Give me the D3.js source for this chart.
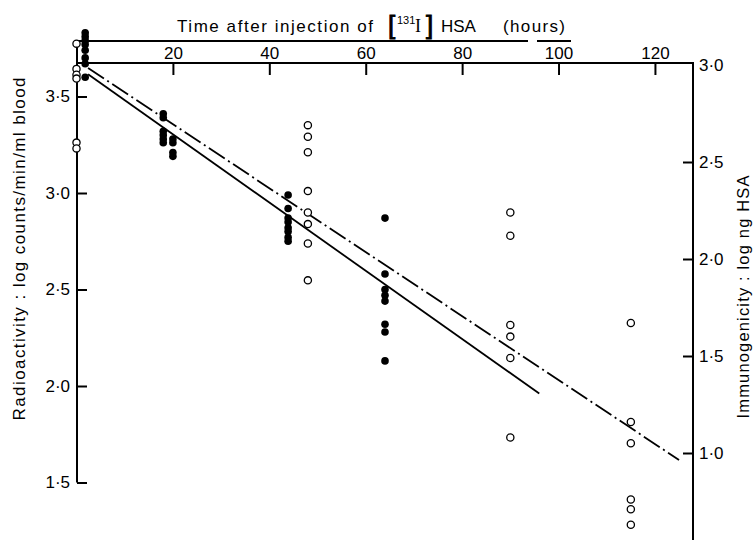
<!DOCTYPE html>
<html><head><meta charset="utf-8">
<script src="https://cdn.jsdelivr.net/npm/d3@7"></script>
<style>
html,body{margin:0;padding:0;background:#fff;}
svg{display:block;font-family:"Liberation Sans",Arial,sans-serif;}
</style></head>
<body>
<svg id="chart" width="755" height="540"></svg>
<script>
// ---- data ----
const timeTicks = [20, 40, 60, 80, 100, 120];
const radioTicks = [1.5, 2.0, 2.5, 3.0, 3.5];
const immunoTicks = [1.0, 1.5, 2.0, 2.5, 3.0];

// Radioactivity (filled dots, left axis): hours and log counts/min/ml blood
const radioGroups = [
  {hours: 1.8,  values: [3.83, 3.81, 3.79, 3.77, 3.74, 3.70, 3.67, 3.60]},
  {hours: 18,   values: [3.41, 3.39, 3.32, 3.30, 3.28, 3.26]},
  {hours: 20,   values: [3.28, 3.26, 3.21, 3.19]},
  {hours: 43.9, values: [2.99, 2.92, 2.87, 2.85, 2.82, 2.80, 2.77, 2.75]},
  {hours: 64,   values: [2.87, 2.58, 2.50, 2.47, 2.44, 2.32, 2.28, 2.13]}
];
// Immunogenicity (open circles, right axis): hours and log ng HSA
const immunoGroups = [
  {hours: 0,    values: [3.11, 2.98, 2.95, 2.93, 2.60, 2.57]},
  {hours: 48,   values: [2.69, 2.63, 2.55, 2.35, 2.24, 2.18, 2.08, 1.89]},
  {hours: 90,   values: [2.24, 2.12, 1.66, 1.60, 1.49, 1.08]},
  {hours: 115,  values: [1.67, 1.16, 1.05, 0.76, 0.71, 0.63]}
];
// Regression lines
const radioFitHours = [2.4, 96];
const radioFitLog = [3.615, 1.961];
const immunoFitHours = [2.4, 125];
const immunoFitLog = [2.985, 0.964];

// ---- layout ----
const svg = d3.select("#chart");
const xLeft = 77, xRight = 693, yTop = 63;
const x = d3.scaleLinear().domain([0, 128]).range([76.5, 693.5]);
const yL = d3.scaleLinear().domain([1.5, 3.0]).range([482.5, 193]);
const yR = d3.scaleLinear().domain([1.0, 3.0]).range([453, 65]);
const fmt = d => d3.format(".1f")(d).replace(".", "\u00B7");

const axisStroke = 2;

// frame lines
svg.append("line").attr("x1", xLeft).attr("x2", 528).attr("y1", 41).attr("y2", 41)
  .attr("stroke", "#000").attr("stroke-width", axisStroke);
svg.append("line").attr("x1", 537).attr("x2", 571).attr("y1", 41).attr("y2", 41)
  .attr("stroke", "#000").attr("stroke-width", axisStroke);
svg.append("line").attr("x1", xLeft).attr("x2", xRight).attr("y1", yTop).attr("y2", yTop)
  .attr("stroke", "#000").attr("stroke-width", axisStroke);
svg.append("line").attr("x1", xLeft).attr("x2", xLeft).attr("y1", 40).attr("y2", yL(1.5))
  .attr("stroke", "#000").attr("stroke-width", axisStroke);
svg.append("line").attr("x1", xRight).attr("x2", xRight).attr("y1", yTop - 1).attr("y2", 540)
  .attr("stroke", "#000").attr("stroke-width", axisStroke);

// top axis
const gTop = svg.append("g").attr("transform", `translate(0,${yTop})`)
  .call(d3.axisTop(x).tickValues(timeTicks).tickSize(-12).tickPadding(4).tickSizeOuter(0));
// left axis
const gLeft = svg.append("g").attr("transform", `translate(${xLeft},0)`)
  .call(d3.axisLeft(yL).tickValues(radioTicks).tickFormat(fmt).tickSize(-10).tickPadding(7).tickSizeOuter(0));
// right axis
const gRight = svg.append("g").attr("transform", `translate(${xRight},0)`)
  .call(d3.axisRight(yR).tickValues(immunoTicks.filter(v => v < 3)).tickFormat(fmt).tickSize(-10).tickPadding(6).tickSizeOuter(0));
svg.append("text").attr("x", xRight + 6).attr("y", yR(3.0)).attr("dy", "0.36em")
  .attr("font-size", 17).text(fmt(3.0));

[gTop, gLeft, gRight].forEach(g => {
  g.select(".domain").remove();
  g.selectAll(".tick line").attr("stroke", "#000").attr("stroke-width", axisStroke);
  g.selectAll(".tick text").attr("font-size", 17).attr("fill", "#000")
    .attr("font-family", "'Liberation Sans',Arial,sans-serif");
});

// title
const title = svg.append("g").attr("font-size", 17).attr("fill", "#000");
title.append("text").attr("x", 177).attr("y", 32).attr("textLength", 196).attr("lengthAdjust", "spacing")
  .text("Time after injection of");
title.append("text").attr("x", 388).attr("y", 34).attr("font-size", 26)
  .attr("stroke", "#000").attr("stroke-width", 0.9).text("[");
title.append("text").attr("x", 397).attr("y", 24).attr("font-size", 11).text("131");
title.append("text").attr("x", 415).attr("y", 32).attr("font-family", "'Liberation Serif',serif").attr("font-size", 18).text("I");
title.append("text").attr("x", 426).attr("y", 34).attr("font-size", 26)
  .attr("stroke", "#000").attr("stroke-width", 0.9).text("]");
title.append("text").attr("x", 441).attr("y", 32).text("HSA");
title.append("text").attr("x", 503).attr("y", 32).attr("textLength", 62).attr("lengthAdjust", "spacing").text("(hours)");

// y labels
svg.append("text").attr("transform", "translate(25,249) rotate(-90)")
  .attr("text-anchor", "middle").attr("font-size", 17).attr("textLength", 343).attr("lengthAdjust", "spacing")
  .text("Radioactivity : log counts/min/ml blood");
svg.append("text").attr("transform", "translate(749,297) rotate(-90)")
  .attr("text-anchor", "middle").attr("font-size", 16.5).attr("textLength", 243).attr("lengthAdjust", "spacing")
  .text("Immunogenicity : log ng HSA");

// regression lines
const lineL = d3.line().x(d => x(d[0])).y(d => yL(d[1]));
const lineR = d3.line().x(d => x(d[0])).y(d => yR(d[1]));
svg.append("path").attr("d", lineL(d3.zip(radioFitHours, radioFitLog)))
  .attr("fill", "none").attr("stroke", "#000").attr("stroke-width", 1.8);
svg.append("path").attr("d", lineR(d3.zip(immunoFitHours, immunoFitLog)))
  .attr("fill", "none").attr("stroke", "#000").attr("stroke-width", 1.8)
  .attr("stroke-dasharray", "19,4,2,4");

// points
const radioPts = radioGroups.flatMap(g => g.values.map(v => ({t: g.hours, v})));
const immunoPts = immunoGroups.flatMap(g => g.values.map(v => ({t: g.hours, v})));

svg.append("g").selectAll("circle").data(immunoPts).join("circle")
  .attr("cx", d => x(d.t)).attr("cy", d => yR(d.v)).attr("r", 3.6)
  .attr("fill", "#fff").attr("stroke", "#000").attr("stroke-width", 1.3);
svg.append("g").selectAll("circle").data(radioPts).join("circle")
  .attr("cx", d => x(d.t)).attr("cy", d => yL(d.v)).attr("r", 3.8)
  .attr("fill", "#000");
</script>
</body></html>
